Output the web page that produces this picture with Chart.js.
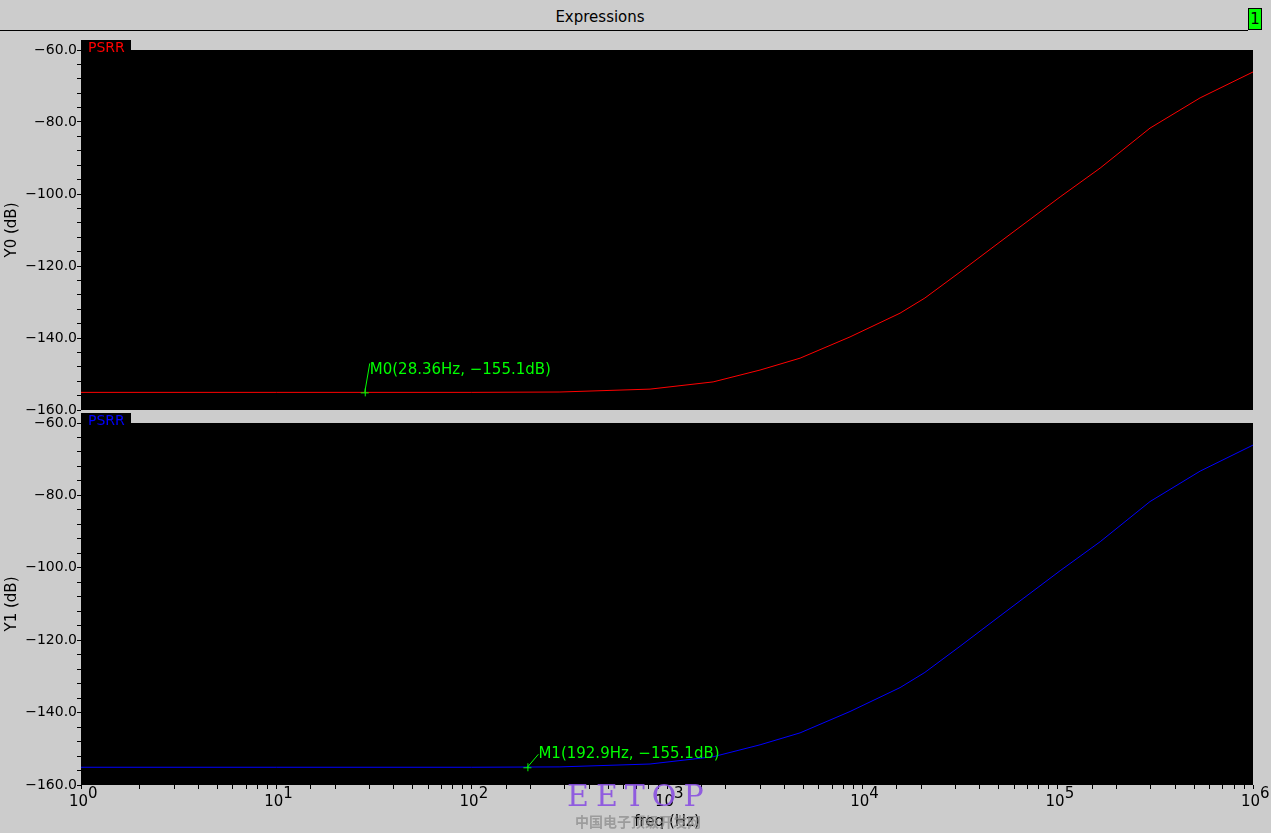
<!DOCTYPE html>
<html>
<head>
<meta charset="utf-8">
<script src="https://cdn.jsdelivr.net/npm/chart.js@4"></script>
<style>
  body { margin: 0; background: #cccccc; width: 1271px; height: 833px; overflow: hidden; position: relative; font-family: "DejaVu Sans", sans-serif; }
  #title { position: absolute; left: 0; top: 8px; width: 1200px; text-align: center; font-size: 15px; color: #000; }
  #title-rule { position: absolute; left: 0; top: 30px; width: 1248px; height: 1px; background: #000; }
  #page-box { position: absolute; left: 1248px; top: 8px; width: 12px; height: 20px; background: #00ff00; border: 1px solid #000; font-size: 15px; line-height: 20px; text-align: center; }
  .wrap { position: absolute; left: 0; width: 1271px; }
  #top-wrap { top: 30px; height: 400px; }
  #bot-wrap { top: 403px; height: 430px; }
  #wm1 { position: absolute; left: 567px; top: 778px; font-family: "DejaVu Serif", serif; font-size: 30px; letter-spacing: 7px; color: rgba(138, 80, 225, 0.9); }
  #wm2 { position: absolute; left: 575px; top: 811px; font-family: "Noto Sans CJK SC", sans-serif; font-weight: bold; font-size: 14px; color: rgba(140, 140, 140, 0.75); }
</style>
</head>
<body>
<div id="title">Expressions</div>
<div id="title-rule"></div>
<div id="page-box">1</div>
<div class="wrap" id="top-wrap"><canvas id="top" width="1271" height="400"></canvas></div>
<div class="wrap" id="bot-wrap"><canvas id="bot" width="1271" height="430"></canvas></div>
<div id="wm1">EETOP</div>
<div id="wm2">中国电子顶级开发网</div>
<script>
// Data (frequency in Hz, PSRR in dB)
const freqHz = [1, 10, 100, 283, 819, 1722, 2995, 4800, 8650, 15600, 20900, 31600, 50700, 103000, 165000, 297000, 536000, 1000000];
const psrrY0 = [-155.1, -155.1, -155.1, -155.0, -154.2, -152.2, -148.9, -145.6, -139.7, -133.1, -128.9, -121.7, -113.3, -100.8, -92.8, -81.7, -73.3, -66.1];
const psrrY1 = [-155.1, -155.1, -155.1, -155.0, -154.2, -152.2, -148.9, -145.6, -139.7, -133.1, -128.9, -121.7, -113.3, -100.8, -92.8, -81.7, -73.3, -66.1];

const markerNames = ['M0', 'M1'];
const markerFreq = [28.36, 192.9];
const markerDb = [-155.1, -155.1];

const decadeExp = [0, 1, 2, 3, 4, 5, 6];
const yMin = -160, yMax = -60, yStep = 4, yLabelStep = 20;
const xMin = 1, xMax = 1e6;

// black plot area
const plotBg = {
    id: 'plotBg',
    beforeDraw(chart) {
        const { ctx, chartArea: a } = chart;
        ctx.save();
        ctx.fillStyle = '#000';
        ctx.fillRect(a.left, a.top, a.right - a.left, a.bottom - a.top);
        ctx.restore();
    }
};

// decade labels with raised exponent
const decadeLabels = {
    id: 'decadeLabels',
    afterDraw(chart, args, opts) {
        if (!opts.show) return;
        const { ctx, chartArea: a, scales } = chart;
        ctx.save();
        ctx.fillStyle = '#000';
        ctx.textBaseline = 'alphabetic';
        ctx.font = '15px "DejaVu Sans"';
        decadeExp.forEach((e) => {
            const px = scales.x.getPixelForValue(Math.pow(10, e));
            ctx.textAlign = 'right';
            ctx.fillText('10', px + 7, a.bottom + 21);
            ctx.textAlign = 'left';
            ctx.fillText(String(e), px + 7, a.bottom + 13);
        });
        ctx.restore();
    }
};

// trace tag and marker annotation
const traceExtras = {
    id: 'traceExtras',
    afterDatasetsDraw(chart, args, opts) {
        const { ctx, chartArea: a, scales } = chart;
        ctx.save();
        // tag box above plot
        ctx.fillStyle = '#000';
        ctx.fillRect(a.left, a.top - 10, 50, 10);
        ctx.fillStyle = opts.color;
        ctx.font = '14px "DejaVu Sans"';
        ctx.textBaseline = 'alphabetic';
        ctx.fillText(opts.label, a.left + 7, a.top + 2);
        // marker
        const i = opts.marker;
        const px = scales.x.getPixelForValue(markerFreq[i]);
        const py = scales.y.getPixelForValue(markerDb[i]);
        ctx.strokeStyle = '#00ff00';
        ctx.lineWidth = 1;
        ctx.beginPath();
        ctx.moveTo(px - 4, py + 0.5); ctx.lineTo(px + 4, py + 0.5);
        ctx.moveTo(px + 0.5, py - 4); ctx.lineTo(px + 0.5, py + 4);
        ctx.moveTo(px, py);
        ctx.lineTo(px + opts.dx, py + opts.lineDy);
        ctx.stroke();
        ctx.fillStyle = '#00ff00';
        ctx.font = '15px "DejaVu Sans"';
        const txt = markerNames[i] + '(' + markerFreq[i] + 'Hz, \u2212' + Math.abs(markerDb[i]).toFixed(1) + 'dB)';
        ctx.fillText(txt, px + opts.dx, py + opts.textDy);
        ctx.restore();
    }
};

function yAxis(title) {
    return {
        min: yMin, max: yMax,
        afterFit(scale) { scale.width = 81; },
        ticks: {
            stepSize: yStep, autoSkip: false, padding: 0,
            color: '#000', font: { family: 'DejaVu Sans', size: 14 },
            callback: (v) => (v % yLabelStep === 0 ? (v < 0 ? '\u2212' : '') + Math.abs(v).toFixed(1) : '')
        },
        grid: { drawOnChartArea: false, tickLength: 4, tickColor: '#000' },
        border: { display: false },
        title: { display: true, text: title, color: '#000', font: { family: 'DejaVu Sans', size: 15 }, padding: { top: 3, bottom: 0 } }
    };
}

function makeChart(id, values, color, marker, showX, dx, lineDy, textDy) {
    const xScale = {
        type: 'logarithmic', min: xMin, max: xMax, display: showX,
        afterFit(scale) { if (showX) scale.height = 48; },
        ticks: {
            autoSkip: false, maxRotation: 0, padding: 2,
            callback: () => ''
        },
        grid: { drawOnChartArea: false, tickLength: 4, tickColor: '#000' },
        border: { display: false },
        title: { display: true, text: 'freq (Hz)', color: '#000', font: { family: 'DejaVu Sans', size: 15 }, padding: { top: 0, bottom: 2 } }
    };
    return new Chart(document.getElementById(id), {
        type: 'line',
        data: {
            datasets: [{
                label: 'PSRR',
                data: freqHz.map((f, i) => ({ x: f, y: values[i] })),
                borderColor: color,
                borderWidth: 1,
                pointRadius: 0,
                tension: 0,
                fill: false
            }]
        },
        options: {
            responsive: false,
            animation: false,
            devicePixelRatio: 1,
            layout: { padding: { top: 20, right: 18, bottom: showX ? 0 : 20, left: 0 } },
            plugins: {
                legend: { display: false },
                tooltip: { enabled: false },
                decadeLabels: { show: showX },
                traceExtras: { label: 'PSRR', color: color, marker: marker, dx: dx, lineDy: lineDy, textDy: textDy }
            },
            scales: { x: xScale, y: yAxis(id === 'top' ? 'Y0 (dB)' : 'Y1 (dB)') }
        },
        plugins: [plotBg, decadeLabels, traceExtras]
    });
}

makeChart('top', psrrY0, '#ff0000', 0, false, 5, -29, -18);
makeChart('bot', psrrY1, '#0000ff', 1, true, 11, -13, -9);
</script>
</body>
</html>
